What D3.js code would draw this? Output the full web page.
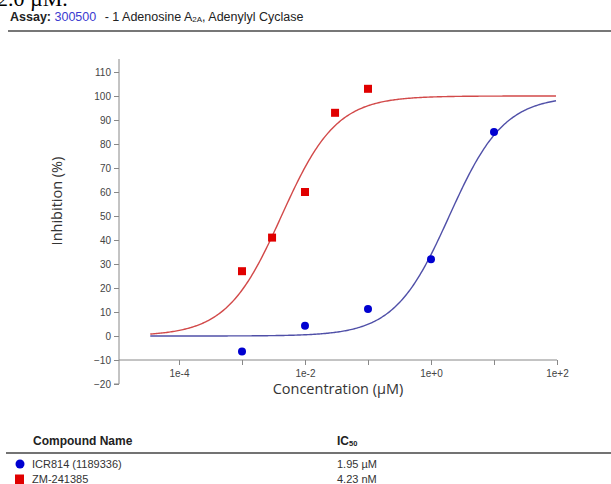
<!DOCTYPE html>
<html>
<head>
<meta charset="utf-8">
<script src="https://cdn.jsdelivr.net/npm/d3@7"></script>
<style>
  body { margin: 0; background: #fff; }
  svg { display: block; font-family: "Liberation Sans", Arial, sans-serif; }
</style>
</head>
<body>
<div id="chart"></div>
<script>
// measured points (concentration in µM, inhibition in %)
var icrConc = [1e-3, 1e-2, 1e-1, 1e0, 1e1];
var icrInhib = [-6.5, 4.3, 11.3, 32, 85];
var zmConc = [1e-3, 3e-3, 1e-2, 3e-2, 1e-1];
var zmInhib = [27, 41, 60, 93, 103];

// fit parameters as shown in the table
var compoundNames = ["ICR814 (1189336)", "ZM-241385"];
var ic50Labels = ["1.95 µM", "4.23 nM"];
var ic50Values = [1.95, 4.23e-3];
var hillSlopes = [1, 1];
var curveRange = [3.5e-5, 1e2];

var yTicks = [-20, -10, 0, 10, 20, 30, 40, 50, 60, 70, 80, 90, 100, 110];
var xTicks = [1e-4, 1e-3, 1e-2, 1e-1, 1e0, 1e1, 1e2];

var width = 611, height = 484;

var svg = d3.select("#chart").append("svg")
  .attr("width", width)
  .attr("height", height);

// cut off heading from page above
svg.append("text")
  .attr("x", -3).attr("y", 6)
  .style("font-family", "'Liberation Serif', serif")
  .style("font-size", "22px")
  .text("2.0 µM.");

var head = svg.append("text")
  .attr("x", 10).attr("y", 21)
  .style("font-size", "12.5px")
  .attr("fill", "#222");
head.append("tspan").style("font-weight", "bold").text("Assay: ");
head.append("tspan").attr("fill", "#3b3bd0").text("300500");
head.append("tspan").attr("dx", 5).text(" - 1 Adenosine A");
head.append("tspan").style("font-size", "8px").attr("dy", 1).text("2A");
head.append("tspan").attr("dy", -1).text(", Adenylyl Cyclase");

svg.append("line")
  .attr("x1", 8).attr("x2", width)
  .attr("y1", 31).attr("y2", 31)
  .attr("stroke", "#777").attr("stroke-width", 2);

// scales
var x = d3.scaleLog().domain([1e-4, 1e2]).range([179, 557]);
var y = d3.scaleLinear().domain([0, 100]).range([336, 96]);

var g = svg.append("g");

// y axis
var yAxis = g.append("g")
  .attr("transform", "translate(119,0)")
  .call(d3.axisLeft(y).tickValues(yTicks).tickSize(5).tickPadding(3));
yAxis.select(".domain").attr("d", "M-5," + y(-20) + "H0V" + (y(115) - 1));

// x axis sits at -10
var xAxis = g.append("g")
  .attr("transform", "translate(0," + y(-10) + ")")
  .call(d3.axisBottom(x).tickValues(xTicks).tickSize(5).tickPadding(5)
    .tickFormat(function (d, i) { return i % 2 === 0 ? d.toExponential(0) : ""; }));
xAxis.select(".domain").attr("d", "M119,0H557");

g.selectAll(".tick text").attr("fill", "#444").style("font-size", "10px");
g.selectAll(".tick line").attr("stroke", "#888");
g.selectAll(".domain").attr("stroke", "#888");

svg.append("text")
  .attr("transform", "translate(62,201) rotate(-90)")
  .attr("text-anchor", "middle")
  .style("font-family", "'Open Sans', sans-serif")
  .style("font-size", "14.5px")
  .attr("fill", "#333")
  .text("Inhibition (%)");

svg.append("text")
  .attr("x", 338).attr("y", 394)
  .attr("text-anchor", "middle")
  .style("font-family", "'Open Sans', sans-serif")
  .style("font-size", "14.5px")
  .attr("fill", "#333")
  .text("Concentration (µM)");

// fitted curves (4PL, bottom 0, top 100)
var curveColors = ["#5050a8", "#d24a4a"];
var line = d3.line().x(function (d) { return x(d[0]); }).y(function (d) { return y(d[1]); });
var logSteps = d3.range(Math.log10(curveRange[0]), Math.log10(curveRange[1]) + 0.001, 0.02);
ic50Values.forEach(function (ic, i) {
  var pts = logSteps.map(function (l) {
    return [Math.pow(10, l), 100 / (1 + Math.pow(10, (Math.log10(ic) - l) * hillSlopes[i]))];
  });
  svg.append("path")
    .datum(pts)
    .attr("fill", "none")
    .attr("stroke", curveColors[i])
    .attr("stroke-width", 1.4)
    .attr("d", line);
});

// points
svg.selectAll(".icr")
  .data(d3.zip(icrConc, icrInhib))
  .join("circle")
  .attr("class", "icr")
  .attr("cx", function (d) { return x(d[0]); })
  .attr("cy", function (d) { return y(d[1]); })
  .attr("r", 4)
  .attr("fill", "#0000d0");

svg.selectAll(".zm")
  .data(d3.zip(zmConc, zmInhib))
  .join("rect")
  .attr("class", "zm")
  .attr("x", function (d) { return x(d[0]) - 4; })
  .attr("y", function (d) { return y(d[1]) - 4; })
  .attr("width", 8).attr("height", 8)
  .attr("fill", "#e00000");

// table
svg.append("text")
  .attr("x", 33).attr("y", 445)
  .style("font-size", "12px").style("font-weight", "bold").attr("fill", "#222")
  .text("Compound Name");
var ich = svg.append("text")
  .attr("x", 337).attr("y", 445)
  .style("font-size", "12px").style("font-weight", "bold").attr("fill", "#222");
ich.append("tspan").text("IC");
ich.append("tspan").style("font-size", "7.5px").attr("dy", 1).text("50");

svg.append("line")
  .attr("x1", 6).attr("x2", width)
  .attr("y1", 453).attr("y2", 453)
  .attr("stroke", "#444").attr("stroke-width", 1.5);

var rows = svg.selectAll(".row")
  .data(compoundNames)
  .join("g")
  .attr("class", "row")
  .attr("transform", function (d, i) { return "translate(0," + (464 + i * 14.5) + ")"; });

rows.append("text")
  .attr("x", 32).attr("y", 4)
  .style("font-size", "11px").attr("fill", "#333")
  .text(function (d) { return d; });
rows.append("text")
  .attr("x", 337).attr("y", 4)
  .style("font-size", "11px").attr("fill", "#333")
  .text(function (d, i) { return ic50Labels[i]; });

rows.filter(function (d, i) { return i === 0; })
  .append("circle").attr("cx", 20).attr("cy", 0).attr("r", 4.5).attr("fill", "#0000d0");
rows.filter(function (d, i) { return i === 1; })
  .append("rect").attr("x", 15).attr("y", -4).attr("width", 9).attr("height", 10).attr("fill", "#e00000");
</script>
</body>
</html>
